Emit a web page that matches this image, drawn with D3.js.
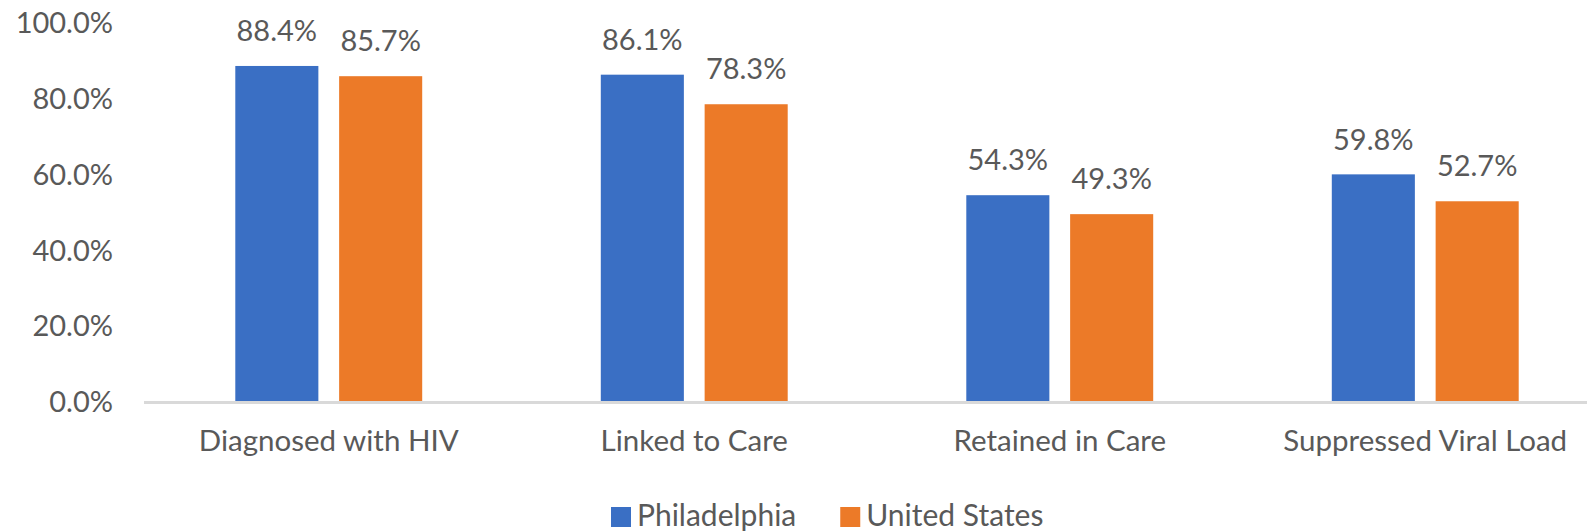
<!DOCTYPE html>
<html>
<head>
<meta charset="utf-8">
<script src="https://cdn.jsdelivr.net/npm/d3@7"></script>
<style>
  html, body { margin: 0; padding: 0; background: #fff; }
  #plot { width: 1587px; height: 531px; overflow: hidden; }
</style>
</head>
<body>
<div id="plot"></div>
<script>
// Chart data
const categories = ["Diagnosed with HIV", "Linked to Care", "Retained in Care", "Suppressed Viral Load"];
const seriesNames = ["Philadelphia", "United States"];
const philadelphia = [88.4, 86.1, 54.3, 59.8];
const unitedStates = [85.7, 78.3, 49.3, 52.7];
const yTickValues = [0, 20, 40, 60, 80, 100];

const seriesValues = [philadelphia, unitedStates];
const colors = ["#3A6FC4", "#EC7A28"];

function createPlot() {
    d3.select("#plot").html("");

    // Set the chart's dimensions
    const width = 1587;
    const height = 531;
    const marginLeft = 146;
    const plotRight = 1608;   // plot area runs past the right edge of the picture
    const yZero = 401;
    const yTop = 22;
    const font = "Lato, 'Open Sans', sans-serif";
    const textColor = "#595959";

    const svg = d3.select("#plot")
        .append("svg")
        .attr("width", width)
        .attr("height", height)
        .attr("viewBox", [0, 0, width, height])
        .style("font-family", font);

    // Scales
    const x0 = d3.scaleBand()
        .domain(categories)
        .range([marginLeft, plotRight])
        .padding(0);

    const x1 = d3.scaleBand()
        .domain(seriesNames)
        .range([0, x0.bandwidth()])
        .paddingInner(0.2)
        .paddingOuter(0.86);

    const y = d3.scaleLinear()
        .domain([0, 100])
        .range([yZero, yTop]);

    // Vertical axis labels (no line, no ticks)
    svg.append("g")
        .selectAll("text")
        .data(yTickValues)
        .join("text")
        .attr("x", 113)
        .attr("y", d => y(d) + 1)
        .attr("dy", "0.35em")
        .attr("text-anchor", "end")
        .attr("fill", textColor)
        .style("font-size", "29px")
        .text(d => d.toFixed(1) + "%");

    // Bars
    const rows = categories.map((c, i) => ({
        category: c,
        values: seriesNames.map((s, j) => ({ series: s, index: j, value: seriesValues[j][i] }))
    }));

    const group = svg.append("g")
        .selectAll("g")
        .data(rows)
        .join("g")
        .attr("transform", d => `translate(${x0(d.category)},0)`);

    group.selectAll("rect")
        .data(d => d.values)
        .join("rect")
        .attr("x", d => x1(d.series))
        .attr("y", d => y(d.value))
        .attr("width", x1.bandwidth())
        .attr("height", d => y(0) - y(d.value))
        .attr("fill", d => colors[d.index]);

    // Value labels
    group.selectAll("text")
        .data(d => d.values)
        .join("text")
        .attr("x", d => x1(d.series) + x1.bandwidth() / 2)
        .attr("y", d => y(d.value) - 35)
        .attr("dy", "0.35em")
        .attr("text-anchor", "middle")
        .attr("fill", textColor)
        .style("font-size", "29px")
        .text(d => d.value.toFixed(1) + "%");

    // Horizontal axis line
    svg.append("line")
        .attr("x1", 144)
        .attr("x2", width)
        .attr("y1", y(0) + 1.5)
        .attr("y2", y(0) + 1.5)
        .attr("stroke", "#D9D9D9")
        .attr("stroke-width", 3);

    // Category labels
    svg.append("g")
        .selectAll("text")
        .data(categories)
        .join("text")
        .attr("x", d => x0(d) + x0.bandwidth() / 2)
        .attr("y", 441)
        .attr("dy", "0.35em")
        .attr("text-anchor", "middle")
        .attr("fill", textColor)
        .style("font-size", "29.5px")
        .text(d => d);

    // Legend
    const legend = svg.append("g")
        .attr("transform", "translate(611,515)");

    let lx = 0;
    seriesNames.forEach((name, i) => {
        const item = legend.append("g").attr("transform", `translate(${lx},0)`);
        item.append("rect")
            .attr("x", 0)
            .attr("y", -8)
            .attr("width", 20)
            .attr("height", 20)
            .attr("fill", colors[i]);
        const t = item.append("text")
            .attr("x", 26)
            .attr("dy", "0.35em")
            .attr("fill", textColor)
            .style("font-size", "30px")
            .text(name);
        lx += 26 + t.node().getComputedTextLength() + 44;
    });

    return svg.node();
}

createPlot();
</script>
</body>
</html>
